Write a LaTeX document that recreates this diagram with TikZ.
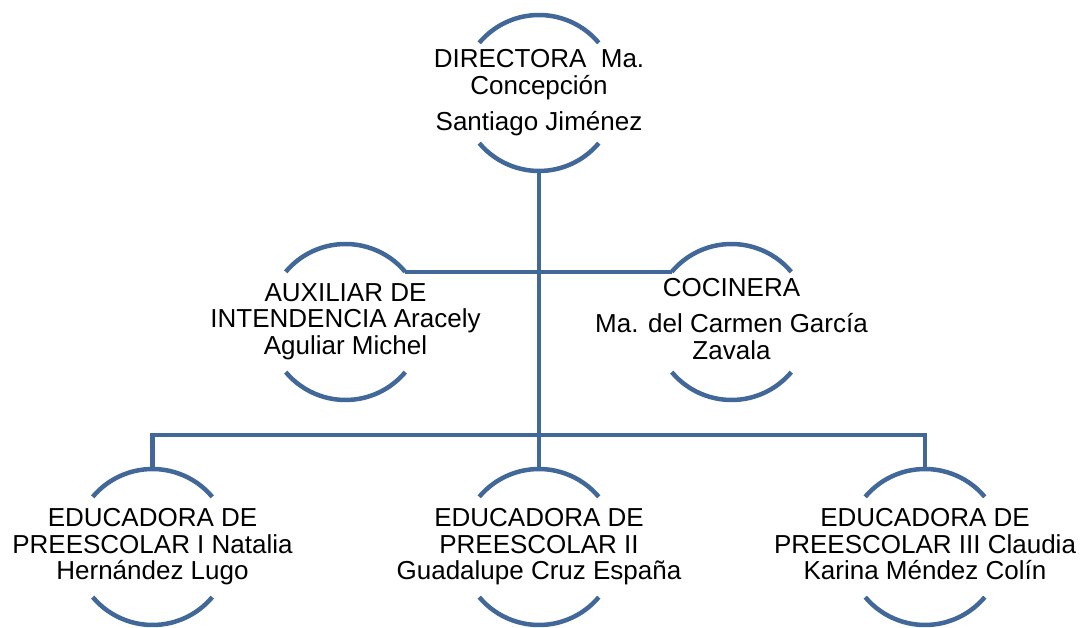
\documentclass[tikz,border=0pt]{standalone}
\usepackage{fontspec}
\setmainfont{Liberation Sans}
\definecolor{orgblue}{RGB}{66,104,154}
\newcommand\mystrut{\rule[-6pt]{0pt}{23pt}}
\begin{document}
\begin{tikzpicture}[x=1pt,y=1pt,
  ring/.style={circle, minimum size=156pt, inner sep=0pt, outer sep=0pt},
  lbl/.style={align=center, inner sep=0pt, font=\fontsize{26}{26.9}\selectfont, text=black},
  link/.style={draw=orgblue, line width=4.5pt}
]
\useasboundingbox (0,0) rectangle (1082,628);
\node[ring] (dir) at (539,535) {};
\node[ring] (aux) at (345.5,306) {};
\node[ring] (coc) at (731.5,306) {};
\node[ring] (e1) at (152.5,81) {};
\node[ring] (e2) at (539,81) {};
\node[ring] (e3) at (925,81) {};
\coordinate (jb) at (539,193);
\foreach \n in {dir,aux,coc,e1,e2,e3}{
  \draw[link] (\n.40) arc[start angle=40,end angle=140,radius=78pt];
  \draw[link] (\n.220) arc[start angle=220,end angle=320,radius=78pt];
}
\draw[link] (dir.south) -- (e2.north);
\draw[link] (aux.40) -- (coc.140);
\draw[link] (e1.north) |- (jb) -| (e3.north);
\node[lbl] (dirt) at (dir) {\mystrut DIRECTORA\ \ Ma.\\Concepción\\[9.8pt]Santiago Jiménez\mystrut};
\node[lbl] (auxt) at (aux) {\mystrut AUXILIAR DE\\INTENDENCIA Aracely\\Aguliar Michel\mystrut};
\node[lbl] (coct) at (coc) {\mystrut COCINERA\\[9.8pt]Ma. del Carmen García\\Zavala\mystrut};
\node[lbl] (e1t) at (e1) {\mystrut EDUCADORA DE\\PREESCOLAR I Natalia\\Hernández Lugo\mystrut};
\node[lbl] (e2t) at (e2) {\mystrut EDUCADORA DE\\PREESCOLAR II\\Guadalupe Cruz España\mystrut};
\node[lbl] (e3t) at (e3) {\mystrut EDUCADORA DE\\PREESCOLAR III Claudia\\Karina Méndez Colín\mystrut};
\end{tikzpicture}
\end{document}
